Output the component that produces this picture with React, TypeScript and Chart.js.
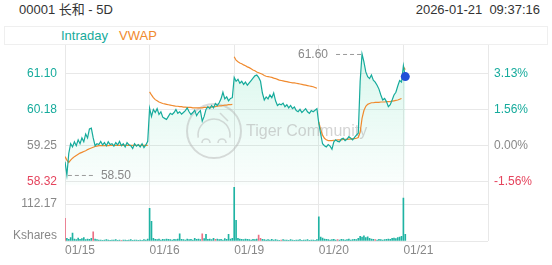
import React, { useEffect, useRef } from 'react';
import { Chart, registerables } from 'chart.js';

Chart.register(...registerables);

// ---------- data ----------
const DAY_LABELS = ['01/15', '01/16', '01/19', '01/20', '01/21'];
const PREV_CLOSE = 59.25;
const PRICE_TICKS = [58.32, 59.25, 60.18, 61.1];
const PCT_LABELS = ['-1.56%', '0.00%', '1.56%', '3.13%'];
const PRICE_MIN = 58.23;
const PRICE_MAX = 61.83;
const VOL_TICK = 112.17;
const VOL_MAX = 168.26;
const KSHARES_AT = 17;
const POINTS_PER_DAY = 45;

const PRICE_D1 = [58.84, 58.5, 59.05, 59.3, 59.22, 59.35, 59.25, 59.4, 59.3, 59.45, 59.35, 59.55, 59.45, 59.68, 59.7, 59.45, 59.25, 59.3, 59.28, 59.36, 59.27, 59.33, 59.25, 59.35, 59.28, 59.3, 59.24, 59.33, 59.27, 59.36, 59.25, 59.3, 59.22, 59.33, 59.27, 59.25, 59.18, 59.3, 59.24, 59.28, 59.22, 59.3, 59.2, 59.27, 59.36];
const PRICE_D2 = [60.21, 60.0, 60.18, 60.1, 60.2, 60.05, 60.12, 59.98, 59.95, 59.92, 60.0, 60.08, 60.05, 60.1, 60.18, 60.08, 60.12, 60.06, 60.1, 60.15, 60.22, 60.12, 60.05, 60.1, 60.16, 60.02, 60.1, 60.15, 59.88, 60.0, 60.18, 60.25, 60.2, 60.28, 60.22, 60.33, 60.28, 60.35, 60.45, 60.62, 60.45, 60.5, 60.4, 60.46, 60.48];
const PRICE_D3 = [61.0, 60.9, 60.95, 60.85, 60.9, 60.82, 60.88, 60.8, 60.86, 60.92, 60.98, 61.04, 61.06, 61.0, 60.9, 60.6, 60.42, 60.5, 60.45, 60.55, 60.48, 60.6, 60.4, 60.28, 60.32, 60.3, 60.34, 60.25, 60.3, 60.22, 60.28, 60.2, 60.24, 60.15, 60.12, 60.18, 60.1, 60.15, 60.2, 60.12, 60.08, 60.15, 60.12, 60.16, 60.2];
const PRICE_D4 = [59.82, 59.55, 59.3, 59.25, 59.22, 59.28, 59.24, 59.16, 59.35, 59.4, 59.36, 59.35, 59.42, 59.44, 59.38, 59.42, 59.48, 59.44, 59.4, 59.46, 59.52, 59.57, 60.9, 61.6, 61.4, 61.14, 61.02, 60.97, 61.06, 60.93, 60.88, 60.8, 60.7, 60.55, 60.42, 60.46, 60.38, 60.25, 60.3, 60.42, 60.55, 60.62, 60.78, 60.92, 60.88];
const PRICE_D5 = [61.3, 61.02];

const VWAP_D1 = [58.97, 58.88, 58.82, 58.88, 58.93, 58.97, 59.0, 59.03, 59.06, 59.08, 59.1, 59.12, 59.15, 59.17, 59.19, 59.21, 59.23, 59.24, 59.25, 59.25, 59.25, 59.25, 59.25, 59.25, 59.26, 59.26, 59.26, 59.26, 59.26, 59.26, 59.26, 59.26, 59.26, 59.26, 59.26, 59.26, 59.26, 59.26, 59.26, 59.26, 59.26, 59.26, 59.26, 59.26, 59.26];
const VWAP_D2 = [60.63, 60.55, 60.48, 60.43, 60.4, 60.37, 60.35, 60.33, 60.32, 60.31, 60.3, 60.29, 60.28, 60.27, 60.26, 60.26, 60.25, 60.25, 60.24, 60.24, 60.23, 60.23, 60.23, 60.22, 60.22, 60.22, 60.22, 60.22, 60.22, 60.23, 60.23, 60.23, 60.24, 60.24, 60.25, 60.25, 60.26, 60.27, 60.27, 60.28, 60.29, 60.29, 60.3, 60.3, 60.31];
const VWAP_D3 = [61.53, 61.44, 61.4, 61.37, 61.35, 61.32, 61.3, 61.27, 61.25, 61.22, 61.19, 61.17, 61.14, 61.12, 61.1, 61.08, 61.05, 61.03, 61.02, 61.01, 61.0, 60.98, 60.97, 60.95, 60.93, 60.92, 60.91, 60.9, 60.89, 60.88, 60.87, 60.86, 60.86, 60.85, 60.84, 60.83, 60.82, 60.81, 60.8, 60.79, 60.78, 60.77, 60.76, 60.74, 60.72];
const VWAP_D4 = [59.86, 59.66, 59.52, 59.44, 59.4, 59.38, 59.38, 59.38, 59.39, 59.39, 59.4, 59.4, 59.4, 59.41, 59.41, 59.41, 59.42, 59.42, 59.43, 59.43, 59.44, 59.46, 59.6, 59.95, 60.15, 60.26, 60.31, 60.33, 60.35, 60.35, 60.36, 60.36, 60.36, 60.37, 60.37, 60.37, 60.38, 60.38, 60.38, 60.39, 60.4, 60.41, 60.42, 60.44, 60.46];
const VWAP_D5 = [61.27, 61.2];

const VOL_D1 = [69, 8, 5, 10, 24, 6, 4, 9, 5, 7, 10, 4, 6, 5, 8, 28, 6, 4, 3, 3, 2, 3, 4, 3, 2, 3, 3, 4, 2, 3, 2, 3, 3, 2, 3, 4, 2, 3, 3, 2, 3, 2, 4, 3, 6];
const VOL_D2 = [99, 60, 8, 5, 4, 6, 3, 5, 4, 6, 5, 4, 3, 5, 4, 6, 22, 5, 4, 3, 6, 4, 5, 3, 8, 5, 6, 4, 22, 7, 20, 5, 6, 4, 8, 5, 6, 4, 5, 3, 7, 5, 20, 6, 8];
const VOL_D3 = [163, 63, 8, 6, 5, 4, 6, 5, 4, 3, 5, 4, 6, 18, 8, 5, 4, 3, 4, 3, 5, 3, 4, 3, 2, 3, 4, 3, 3, 2, 4, 3, 2, 3, 3, 4, 2, 3, 3, 4, 2, 3, 3, 2, 4];
const VOL_D4 = [73, 12, 9, 6, 5, 4, 3, 4, 5, 3, 4, 3, 5, 4, 3, 4, 6, 3, 4, 5, 4, 8, 14, 12, 16, 10, 13, 8, 6, 5, 4, 3, 5, 4, 3, 4, 5, 6, 5, 8, 9, 7, 10, 12, 14];
const VOL_D5 = [130, 20];

const VOL_DOWN_D1 = [0, 15, 30];
const VOL_DOWN_D2 = [28, 35];
const VOL_DOWN_D3 = [13, 14, 25];
const VOL_DOWN_D4 = [10, 30];
const VOL_DOWN_D5: number[] = [];

// ---------- styles ----------
const FONT = '"Liberation Sans", Arial, "Noto Sans CJK SC", sans-serif';
const TEAL = '#16ab9c';
const ORANGE = '#f08a2e';
const RED = '#e5445d';
const GRAY_TXT = '#888888';
const GRID = '#e8e8e8';
const BLUE = '#1f4fd8';
const VOL_UP = '#1fb3a3';
const VOL_DN = '#ec6f84';

const priceDays = [PRICE_D1, PRICE_D2, PRICE_D3, PRICE_D4, PRICE_D5];
const vwapDays = [VWAP_D1, VWAP_D2, VWAP_D3, VWAP_D4, VWAP_D5];
const volDays = [VOL_D1, VOL_D2, VOL_D3, VOL_D4, VOL_D5];
const volDownDays = [VOL_DOWN_D1, VOL_DOWN_D2, VOL_DOWN_D3, VOL_DOWN_D4, VOL_DOWN_D5];

const xOf = (d: number, i: number) => d + i / POINTS_PER_DAY;

const priceData = priceDays.flatMap((arr, d) => arr.map((y, i) => ({ x: xOf(d, i), y })));
const vwapData: { x: number; y: number | null }[] = [];
vwapDays.forEach((arr, d) => {
  arr.forEach((y, i) => vwapData.push({ x: xOf(d, i), y }));
  vwapData.push({ x: xOf(d, arr.length - 0.5), y: null });
});
const volData = volDays.flatMap((arr, d) => arr.map((y, i) => ({ x: xOf(d, i), y })));
const volColors = volDays.flatMap((arr, d) => arr.map((_, i) => (volDownDays[d].includes(i) ? VOL_DN : VOL_UP)));

const priceColor = (v: number) => (Math.abs(v - PREV_CLOSE) < 0.001 ? GRAY_TXT : v > PREV_CLOSE ? TEAL : RED);

const noPad = (s: any) => {
  s.paddingTop = 0;
  s.paddingBottom = 0;
  s.paddingLeft = 0;
  s.paddingRight = 0;
};

const overlayPlugin = {
  id: 'overlay',
  beforeDatasetsDraw(chart: any) {
    const c = chart.ctx as CanvasRenderingContext2D;
    c.save();
    const cx = 214;
    const cy = 86;
    c.strokeStyle = 'rgba(175,175,175,0.45)';
    c.lineWidth = 2;
    c.beginPath();
    c.arc(cx, cy, 27, 0, Math.PI * 2);
    c.stroke();
    c.lineWidth = 1.6;
    c.beginPath();
    c.arc(cx, cy + 4, 16, Math.PI * 0.95, Math.PI * 2.05);
    c.stroke();
    c.beginPath();
    c.arc(cx - 8, cy + 12, 4, Math.PI, Math.PI * 2);
    c.stroke();
    c.beginPath();
    c.arc(cx + 8, cy + 12, 4, Math.PI, Math.PI * 2);
    c.stroke();
    c.beginPath();
    c.moveTo(cx + 6, cy - 18);
    c.lineTo(cx + 14, cy - 10);
    c.stroke();
    c.font = '16px ' + FONT;
    c.fillStyle = 'rgba(175,175,175,0.55)';
    c.textBaseline = 'middle';
    c.textAlign = 'left';
    c.fillText('Tiger Community', 246, 87);
    c.restore();
  },
  afterDatasetsDraw(chart: any) {
    const c = chart.ctx as CanvasRenderingContext2D;
    const meta = chart.getDatasetMeta(0);
    const data = chart.data.datasets[0].data as { x: number; y: number }[];
    let hi = 0;
    let lo = 0;
    data.forEach((p, i) => {
      if (p.y > data[hi].y) hi = i;
      if (p.y < data[lo].y) lo = i;
    });
    const mid = (chart.chartArea.left + chart.chartArea.right) / 2;
    c.save();
    [hi, lo].forEach((idx) => {
      const el = meta.data[idx];
      if (!el) return;
      const px = el.x;
      const py = el.y;
      const dir = px < mid ? 1 : -1;
      c.strokeStyle = '#9a9a9a';
      c.lineWidth = 1;
      c.setLineDash([4, 3]);
      c.beginPath();
      c.moveTo(px + dir * 1, py + 0.5);
      c.lineTo(px + dir * 29, py + 0.5);
      c.stroke();
      c.setLineDash([]);
      c.font = '12px ' + FONT;
      c.fillStyle = GRAY_TXT;
      c.textBaseline = 'middle';
      c.textAlign = dir > 0 ? 'left' : 'right';
      c.fillText(data[idx].y.toFixed(2), px + dir * 34, py + 1);
    });
    c.restore();
  },
};

export default function App() {
  const ref = useRef<HTMLCanvasElement>(null);
  useEffect(() => {
    const canvas = ref.current;
    if (!canvas) return;
    const chart = new Chart(canvas, {
      type: 'line',
      data: {
        datasets: [
          {
            label: 'Intraday',
            data: priceData as any,
            xAxisID: 'x',
            yAxisID: 'y',
            borderColor: TEAL,
            borderWidth: 1.2,
            tension: 0,
            pointRadius: (ctx: any) => (ctx.dataIndex === priceData.length - 1 ? 4.5 : 0),
            pointBackgroundColor: BLUE,
            pointBorderWidth: 0,
            fill: 'start',
            backgroundColor: (ctx: any) => {
              const ch = ctx.chart;
              const ys = ch.scales && ch.scales.y;
              if (!ys || !Number.isFinite(ys.top) || !Number.isFinite(ys.bottom) || ys.bottom <= ys.top) {
                return 'rgba(40,205,150,0.1)';
              }
              const g = ch.ctx.createLinearGradient(0, ys.top, 0, ys.bottom);
              g.addColorStop(0, 'rgba(40,210,150,0.18)');
              g.addColorStop(1, 'rgba(40,210,150,0.02)');
              return g;
            },
            order: 1,
          },
          {
            label: 'VWAP',
            data: vwapData as any,
            xAxisID: 'x',
            yAxisID: 'y',
            borderColor: ORANGE,
            borderWidth: 1.2,
            pointRadius: 0,
            fill: false,
            spanGaps: false,
            tension: 0,
            order: 2,
          },
          {
            type: 'bar',
            label: 'Volume',
            data: volData as any,
            xAxisID: 'x',
            yAxisID: 'yv',
            backgroundColor: volColors,
            barThickness: 1,
            order: 3,
          } as any,
        ],
      },
      options: {
        animation: false,
        responsive: false,
        layout: { padding: 0, autoPadding: false } as any,
        events: [],
        plugins: {
          legend: { display: false },
          tooltip: { enabled: false },
          filler: { drawTime: 'beforeDatasetsDraw' } as any,
        },
        scales: {
          x: {
            type: 'linear',
            min: 0,
            max: 5,
            offset: false,
            afterBuildTicks: (s: any) => {
              s.ticks = [0, 1, 2, 3, 4, 5].map((v) => ({ value: v }));
            },
            afterFit: (s: any) => {
              s.height = 24;
              noPad(s);
            },
            grid: { color: GRID, drawTicks: false, offset: false },
            border: { display: false },
            ticks: {
              autoSkip: false,
              maxRotation: 0,
              align: 'start',
              padding: 2,
              color: GRAY_TXT,
              font: { family: FONT, size: 12 },
              callback: (v: any) => DAY_LABELS[Number(v)] ?? '',
            },
          },
          yv: {
            type: 'linear',
            position: 'left',
            stack: 'left',
            stackWeight: 55.5,
            min: 0,
            max: VOL_MAX,
            afterBuildTicks: (s: any) => {
              s.ticks = [0, KSHARES_AT, VOL_TICK].map((v) => ({ value: v }));
            },
            afterFit: (s: any) => {
              s.width = 65;
              noPad(s);
            },
            grid: {
              drawTicks: false,
              color: (ctx: any) => (ctx.tick && ctx.tick.value === KSHARES_AT ? 'rgba(0,0,0,0)' : GRID),
            },
            border: { display: false },
            ticks: {
              autoSkip: false,
              padding: 8,
              color: GRAY_TXT,
              font: { family: FONT, size: 12 },
              callback: (v: any) => (v === VOL_TICK ? VOL_TICK.toFixed(2) : v === KSHARES_AT ? 'Kshares' : ''),
            },
          },
          y: {
            type: 'linear',
            position: 'left',
            stack: 'left',
            stackWeight: 140.5,
            min: PRICE_MIN,
            max: PRICE_MAX,
            afterBuildTicks: (s: any) => {
              s.ticks = PRICE_TICKS.map((v) => ({ value: v }));
            },
            afterFit: (s: any) => {
              s.width = 65;
              noPad(s);
            },
            grid: { color: GRID, drawTicks: false },
            border: { display: false },
            ticks: {
              autoSkip: false,
              padding: 8,
              color: (ctx: any) => priceColor(ctx.tick ? ctx.tick.value : 0),
              font: { family: FONT, size: 12 },
              callback: (v: any) => Number(v).toFixed(2),
            },
          },
          yr: {
            type: 'linear',
            position: 'right',
            stack: 'right',
            stackWeight: 140.5,
            min: PRICE_MIN,
            max: PRICE_MAX,
            afterBuildTicks: (s: any) => {
              s.ticks = PRICE_TICKS.map((v) => ({ value: v }));
            },
            afterFit: (s: any) => {
              s.width = 64;
              noPad(s);
            },
            grid: { display: false, drawTicks: false },
            border: { display: false },
            ticks: {
              autoSkip: false,
              padding: 6,
              color: (ctx: any) => priceColor(ctx.tick ? ctx.tick.value : 0),
              font: { family: FONT, size: 12 },
              callback: (_v: any, i: number) => PCT_LABELS[i],
            },
          },
          yrv: {
            type: 'linear',
            position: 'right',
            stack: 'right',
            stackWeight: 55.5,
            min: 0,
            max: VOL_MAX,
            afterFit: (s: any) => {
              s.width = 64;
              noPad(s);
            },
            grid: { display: false, drawTicks: false },
            border: { display: false },
            ticks: { display: false },
          },
        } as any,
      },
      plugins: [overlayPlugin],
    });
    return () => chart.destroy();
  }, []);

  return (
    <div style={{ position: 'fixed', left: 0, top: 0, width: 552, height: 265, background: '#fff', fontFamily: FONT }}>
      <div style={{ position: 'absolute', left: 19, top: 1, fontSize: 13, color: '#333', lineHeight: '17px', whiteSpace: 'pre' }}>
        00001 长和 - 5D
      </div>
      <div style={{ position: 'absolute', right: 12, top: 1, fontSize: 13, color: '#333', lineHeight: '17px', whiteSpace: 'pre' }}>
        {'2026-01-21  09:37:16'}
      </div>
      <div style={{ position: 'absolute', left: 4, top: 26, width: 544, height: 19, border: '1px solid #efefef', boxSizing: 'border-box' }} />
      <span style={{ position: 'absolute', left: 61, top: 27, fontSize: 13, color: TEAL, lineHeight: '17px' }}>Intraday</span>
      <span style={{ position: 'absolute', left: 119, top: 27, fontSize: 13, color: ORANGE, lineHeight: '17px' }}>VWAP</span>
      <canvas ref={ref} width={552} height={220} style={{ position: 'absolute', left: 0, top: 45, display: 'block' }} />
    </div>
  );
}
